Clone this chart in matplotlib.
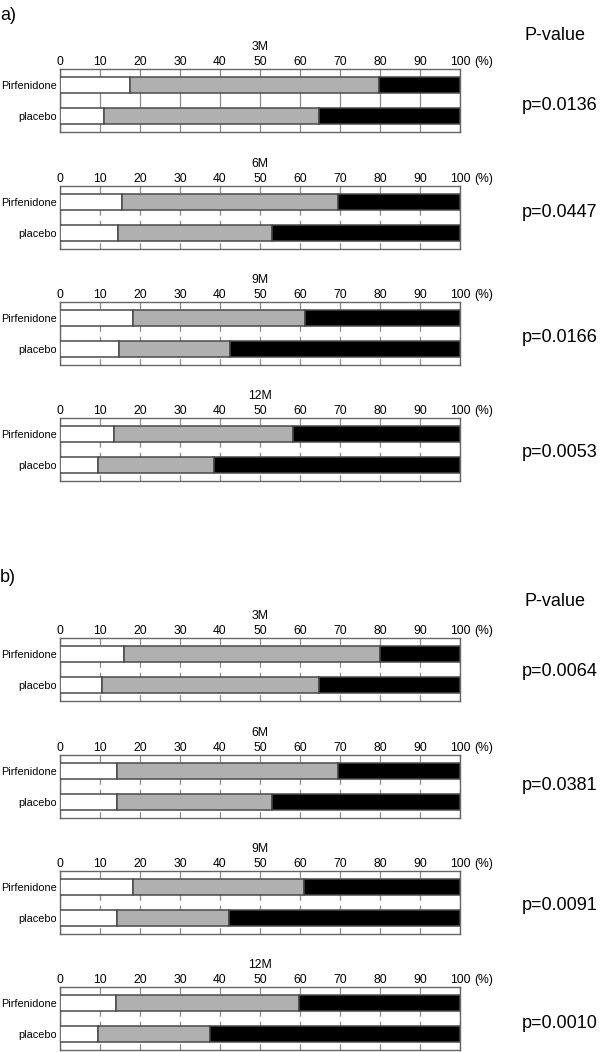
import matplotlib
matplotlib.use("Agg")
import matplotlib.pyplot as plt

plt.rcParams["font.family"] = ["Liberation Sans", "DejaVu Sans"]

# ── data ─────────────────────────────────────────────────────────────────────
groups = ["Pirfenidone", "placebo"]
months = ["3M", "6M", "9M", "12M"]
ticks = [0, 10, 20, 30, 40, 50, 60, 70, 80, 90, 100]

# a) [Pirfenidone, placebo] per month, % in white / gray / black segments
a_white = [[17.4, 10.9], [15.6, 14.6], [18.2, 14.8], [13.6, 9.6]]
a_gray = [[62.4, 53.8], [54.0, 38.5], [43.0, 27.8], [44.6, 28.8]]
a_black = [[20.2, 35.3], [30.4, 46.9], [38.8, 57.4], [41.8, 61.6]]
a_pvals = ["p=0.0136", "p=0.0447", "p=0.0166", "p=0.0053"]

# b)
b_white = [[16.1, 10.4], [14.2, 14.2], [18.2, 14.2], [14.1, 9.6]]
b_gray = [[64.0, 54.3], [55.2, 38.7], [42.9, 28.1], [45.7, 27.8]]
b_black = [[19.9, 35.3], [30.6, 47.1], [38.9, 57.7], [40.2, 62.6]]
b_pvals = ["p=0.0064", "p=0.0381", "p=0.0091", "p=0.0010"]

W, H = 600, 1052
FH = 63  # frame height in px
fig = plt.figure(figsize=(W / 100, H / 100), dpi=100)

EDGE = "#4a4a4a"
colors = ["white", "#b0b0b0", "black"]


def draw_panel(frame_top, title, white, gray, black, pval, pval_y, dashed=True):
    ax = fig.add_axes([60 / W, 1 - (frame_top + FH) / H, 400 / W, FH / H])
    y = [1, 2]
    left = [0, 0]
    for seg, col in zip([white, gray, black], colors):
        ax.barh(y, seg, left=left, height=0.5, color=col,
                edgecolor=EDGE, linewidth=1.1, zorder=3)
        left = [l + s for l, s in zip(left, seg)]
    ax.set_xlim(0, 100)
    ax.set_ylim(2.5, 0.5)
    ax.set_yticks(y)
    ax.set_yticklabels(groups, fontsize=7.8)
    ax.set_xticks(ticks)
    ax.set_xticklabels([str(t) for t in ticks], fontsize=8.7)
    ax.xaxis.tick_top()
    ax.tick_params(axis="x", length=0, pad=1)
    ax.tick_params(axis="y", length=0, pad=2)
    ax.set_axisbelow(True)
    ls = (0, (5, 4)) if dashed else "-"
    ax.grid(axis="x", color="#8c8c8c", linestyle=ls, linewidth=0.9)
    for sp in ax.spines.values():
        sp.set_color("#666666")
        sp.set_linewidth(1.0)
    ax.annotate("(%)", xy=(100, 1), xycoords=("data", "axes fraction"),
                xytext=(10, 1), textcoords="offset points",
                ha="left", va="bottom", fontsize=8.7)
    ax.text(0.5, 1 + 22 / FH, title, transform=ax.transAxes,
            ha="center", va="center", fontsize=8.8)
    fig.text(522 / W, 1 - pval_y / H, pval, fontsize=13,
             ha="left", va="center")


a_tops = [69, 186, 302, 418]
b_tops = [638, 755, 871, 987]
a_py = [105, 212, 337, 453]
b_py = [671, 786, 906, 1024]

for i in range(4):
    draw_panel(a_tops[i], months[i], a_white[i], a_gray[i], a_black[i],
               a_pvals[i], a_py[i], dashed=(i > 0))
    draw_panel(b_tops[i], months[i], b_white[i], b_gray[i], b_black[i],
               b_pvals[i], b_py[i])

fig.text(0, 1 - 16 / H, "a)", fontsize=13, ha="left", va="center")
fig.text(0, 1 - 578 / H, "b)", fontsize=13, ha="left", va="center")
fig.text(524 / W, 1 - 36 / H, "P-value", fontsize=13, ha="left", va="center")
fig.text(524 / W, 1 - 601 / H, "P-value", fontsize=13, ha="left", va="center")

fig.savefig("out.png", dpi=100, facecolor="white")
